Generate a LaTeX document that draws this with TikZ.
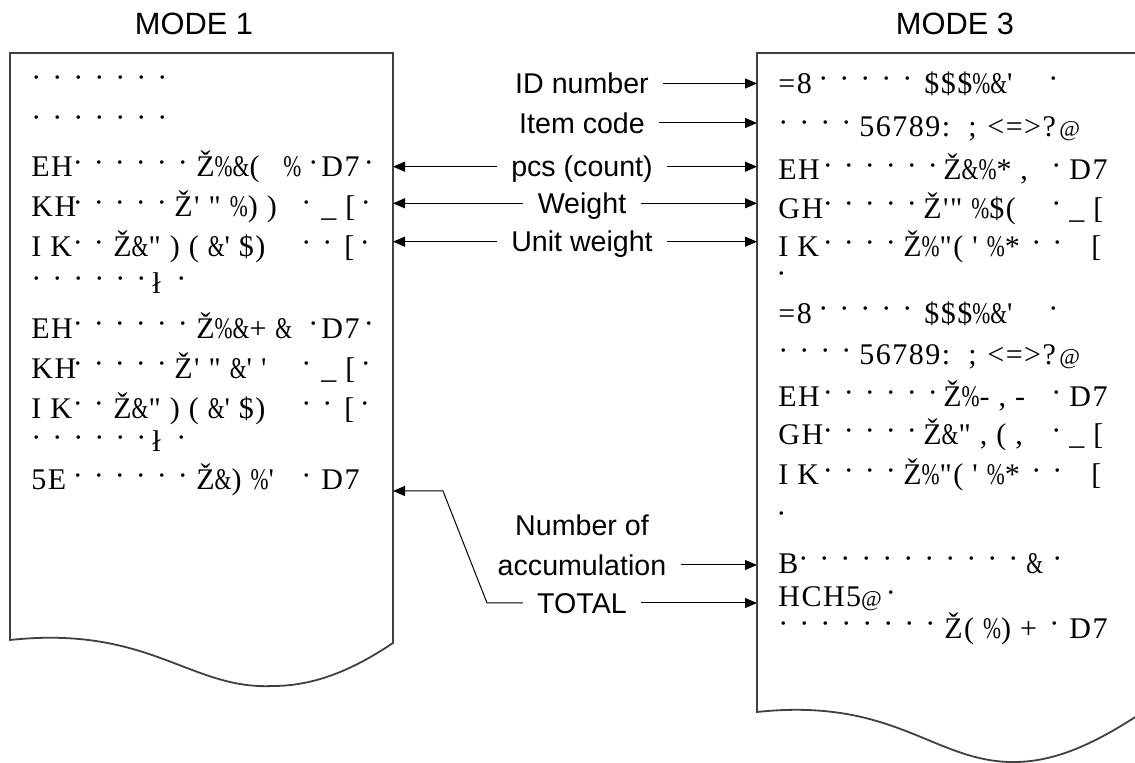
\documentclass[tikz,border=0pt]{standalone}
\usepackage{fontspec}
\setsansfont{Liberation Sans}
\newfontfamily\tapefont{Liberation Serif}[Ligatures=TeXOff,LetterSpace=5]
\usetikzlibrary{arrows.meta,positioning,calc}

\setlength{\unitlength}{0.5pt}
\newcommand{\dd}{\makebox[10.5pt]{\raisebox{2.2pt}{·}}}
\newcommand{\putat}[2]{\makebox[0pt][l]{\hspace*{#1\unitlength}#2}}
\newcommand{\pct}{\scalebox{0.72}[1]{\%}}
\newcommand{\amp}{\scalebox{0.72}[1]{\&}}
\newcommand{\sat}{\scalebox{0.75}{@}}

\begin{document}
\begin{tikzpicture}[x=0.5pt,y=-0.5pt,
  paper/.style={line width=0.9pt,black!75},
  ptr/.style={line width=0.5pt,-{Triangle[length=6pt,width=5pt]}},
  tape/.style={font=\tapefont\fontsize{15}{17}\selectfont,anchor=base west,inner sep=0pt},
  lbl/.style={font=\sffamily\fontsize{14.3}{17}\selectfont,text height=10.2pt,text depth=0pt,inner xsep=7pt,inner ysep=0pt},
  ttl/.style={font=\sffamily\fontsize{15.4}{18}\selectfont,anchor=base}]
\useasboundingbox (0,0) rectangle (1135,763);

% paper strips
\draw[paper] (10,640) -- (10,53) -- (393,53) -- (393,643)
  .. controls (360,665) and (320,686) .. (273,686)
  .. controls (190,690) and (150,625) .. (10,640) -- cycle;
\draw[paper] (1140,53) -- (757,53) -- (757,712)
  .. controls (897,697) and (935,764) .. (1017,762)
  .. controls (1060,761) and (1100,740) .. (1140,714);
\coordinate (lpR) at (393,0);
\coordinate (rpL) at (757,0);

\node[ttl] (mode1) at (194,35) {MODE 1};
\node[ttl] (mode3) at (955,35) {MODE 3};

% MODE 1 print
\node[tape] (l1) at (0,91.7) {\putat{24.5}{\dd\dd\dd\dd\dd\dd\dd}};
\node[tape] (l2) at (0,131.7) {\putat{24.5}{\dd\dd\dd\dd\dd\dd\dd}};
\node[tape] (l3) at (0,176.7) {\putat{30}{EH}\putat{66}{\dd\dd\dd\dd\dd\dd}\putat{195}{Ž\pct\amp(}\putat{282}{\pct}\putat{301.5}{\dd}\putat{320}{D7}\putat{357}{\dd}};
\node[tape] (l4) at (0,216.7) {\putat{30}{KH}\putat{66}{\dd\dd\dd\dd\dd}\putat{173}{Ž' " \pct) )}\putat{294.5}{\dd}\putat{320}{\_ [\dd}};
\node[tape] (l5) at (0,256.7) {\putat{30}{I K}\putat{66}{\dd\dd}\putat{112}{Ž\amp" ) ( \amp' \$)}\putat{294.5}{\dd\dd}\putat{343}{[\dd}};
\node[tape] (l6) at (0,293.3) {\putat{24.5}{\dd\dd\dd\dd\dd\dd}\putat{151}{ł}\putat{169.5}{\dd}};
\node[tape] (l7) at (0,338.3) {\putat{30}{EH}\putat{66}{\dd\dd\dd\dd\dd\dd}\putat{195}{Ž\pct\amp+ \amp}\putat{301.5}{\dd}\putat{320}{D7}\putat{357}{\dd}};
\node[tape] (l8) at (0,378.3) {\putat{30}{KH}\putat{66}{\dd\dd\dd\dd\dd}\putat{173}{Ž' " \amp' '}\putat{294.5}{\dd}\putat{320}{\_ [\dd}};
\node[tape] (l9) at (0,418.3) {\putat{30}{I K}\putat{66}{\dd\dd}\putat{112}{Ž\amp" ) ( \amp' \$)}\putat{294.5}{\dd\dd}\putat{343}{[\dd}};
\node[tape] (l10) at (0,451.7) {\putat{24.5}{\dd\dd\dd\dd\dd\dd}\putat{151}{ł}\putat{169.5}{\dd}};
\node[tape] (l11) at (0,490) {\putat{30}{5E}\putat{66}{\dd\dd\dd\dd\dd\dd}\putat{195}{Ž\amp) \pct'}\putat{294.5}{\dd}\putat{320}{D7}};

% MODE 3 print
\node[tape] (r1) at (0,93.3) {\putat{777}{=8}\putat{811.5}{\dd\dd\dd\dd\dd}\putat{923}{\$\$\$\pct\amp'}\putat{1041.5}{\dd}};
\node[tape] (r2) at (0,136.7) {\putat{771.5}{\dd\dd\dd\dd}\putat{858}{56789:}\putat{967}{;}\putat{986}{<=>?}\putat{1058}{\sat}};
\node[tape] (r3) at (0,180) {\putat{777}{EH}\putat{816}{\dd\dd\dd\dd\dd\dd}\putat{942}{Ž\amp\pct* ,}\putat{1044.5}{\dd}\putat{1068}{D7}};
\node[tape] (r4) at (0,218.3) {\putat{777}{GH}\putat{816}{\dd\dd\dd\dd\dd}\putat{922}{Ž'" \pct\$(}\putat{1044.5}{\dd}\putat{1068}{\_ [}};
\node[tape] (r5) at (0,256.7) {\putat{777}{I K}\putat{816}{\dd\dd\dd\dd}\putat{902}{Ž\pct"( ' \pct*}\putat{1024.5}{\dd\dd}\putat{1090}{[}};
\node[tape] (r6) at (0,288.3) {\putat{769.5}{\dd}};
\node[tape] (r7) at (0,323.3) {\putat{777}{=8}\putat{811.5}{\dd\dd\dd\dd\dd}\putat{923}{\$\$\$\pct\amp'}\putat{1041.5}{\dd}};
\node[tape] (r8) at (0,365) {\putat{771.5}{\dd\dd\dd\dd}\putat{858}{56789:}\putat{967}{;}\putat{986}{<=>?}\putat{1058}{\sat}};
\node[tape] (r9) at (0,406.7) {\putat{777}{EH}\putat{816}{\dd\dd\dd\dd\dd\dd}\putat{942}{Ž\pct- , -}\putat{1044.5}{\dd}\putat{1068}{D7}};
\node[tape] (r10) at (0,445) {\putat{777}{GH}\putat{816}{\dd\dd\dd\dd\dd}\putat{922}{Ž\amp" , ( ,}\putat{1044.5}{\dd}\putat{1068}{\_ [}};
\node[tape] (r11) at (0,485) {\putat{777}{I K}\putat{816}{\dd\dd\dd\dd}\putat{902}{Ž\pct"( ' \pct*}\putat{1024.5}{\dd\dd}\putat{1090}{[}};
\node[tape] (r12) at (0,528.3) {\putat{769.5}{\dd}};
\node[tape] (r13) at (0,573.3) {\putat{777}{B}\putat{791.5}{\dd\dd\dd\dd\dd\dd\dd\dd\dd\dd\dd}\putat{1025}{\amp}\putat{1045.5}{\dd}};
\node[tape] (r14) at (0,606.7) {\putat{777}{HCH5\sat}\putat{879}{\dd}};
\node[tape] (r15) at (0,638.3) {\putat{771.5}{\dd\dd\dd\dd\dd\dd\dd\dd}\putat{943}{Ž( \pct) +}\putat{1042.5}{\dd}\putat{1068}{D7}};

% field labels
\node[lbl] (idno) at (582,83.5) {ID number};
\node[lbl] (item) at (582,123) {Item code};
\node[lbl] (pcs) at (582,166.7) {pcs (count)};
\node[lbl] (wgt) at (582,203.3) {Weight};
\node[lbl] (unitw) at (582,241.7) {Unit weight};
\node[lbl] (numof) at (582,525) {Number of};
\node[lbl] (accum) at (582,565) {accumulation};
\node[lbl] (total) at (582,603) {TOTAL};

\draw[ptr] (idno.east) -- (idno.east -| rpL);
\draw[ptr] (item.east) -- (item.east -| rpL);
\draw[ptr] (pcs.east) -- (pcs.east -| rpL);
\draw[ptr] (wgt.east) -- (wgt.east -| rpL);
\draw[ptr] (unitw.east) -- (unitw.east -| rpL);
\draw[ptr] (accum.east) -- (accum.east -| rpL);
\draw[ptr] (total.east) -- (total.east -| rpL);
\draw[ptr] (pcs.west) -- (pcs.west -| lpR);
\draw[ptr] (wgt.west) -- (wgt.west -| lpR);
\draw[ptr] (unitw.west) -- (unitw.west -| lpR);
\coordinate (tknee) at (487,603);
\coordinate (ttop) at (443,491);
\draw[ptr] (total.west) -- (tknee) -- (ttop) -- (ttop -| lpR);
\end{tikzpicture}
\end{document}
